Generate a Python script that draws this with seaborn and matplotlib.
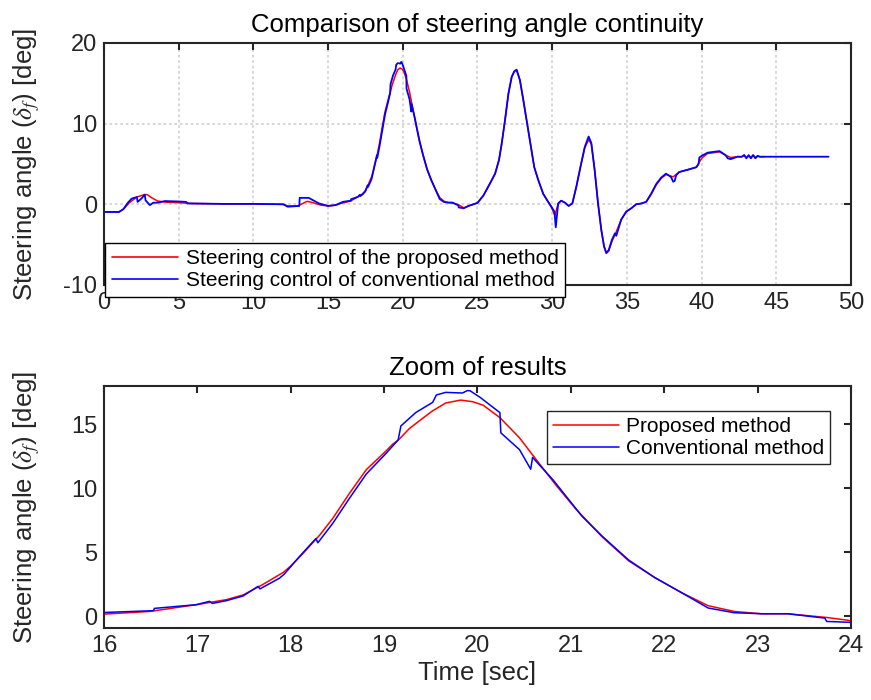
import numpy as np
import pandas as pd
import matplotlib
matplotlib.use("Agg")
import matplotlib.pyplot as plt
import seaborn as sns

# ---------------- data ----------------
t_proposed = [
    0, 1.0, 1.3, 1.7, 2.2, 2.7, 2.9, 3.2, 3.6, 4.2,
    5.0, 6.0, 8.0, 10.0, 12.0, 12.3, 13.0, 13.3, 13.6, 14.0,
    14.5, 15.0, 15.5, 16.0, 16.49, 16.99, 17.31, 17.49, 17.70, 17.92,
    18.0, 18.13, 18.31, 18.45, 18.63, 18.81, 19.0, 19.09, 19.16, 19.27,
    19.41, 19.52, 19.66, 19.82, 19.95, 20.06, 20.24, 20.45, 20.63, 20.84,
    21.05, 21.34, 21.62, 21.9, 22.19, 22.47, 22.75, 23.04, 23.32,
    23.74, 23.96, 24.07, 24.4, 25.0, 25.4, 25.84, 26.18, 26.44, 26.62,
    26.84, 27.07, 27.29, 27.47, 27.62, 27.84, 28.07, 28.29, 28.51, 28.8,
    29.07, 29.4, 29.73, 29.91, 30.18, 30.4, 30.6, 30.86, 31.1, 31.35,
    31.62, 31.9, 32.18, 32.44, 32.62, 32.84, 33.07, 33.29, 33.47, 33.62,
    33.78, 34.0, 34.29, 34.62, 34.96, 35.29, 35.62, 35.96, 36.29, 36.62,
    36.96, 37.29, 37.62, 38.1, 38.5, 39.1, 39.65, 40.0, 40.4, 41.2,
    41.6, 41.95, 42.4, 42.7, 42.85, 43.0, 43.15, 43.3, 43.45, 43.6,
    43.75, 43.9, 44.2,
]
y_proposed = [
    -0.95, -0.95, -0.6, 0.2, 0.9, 1.2, 1.2, 0.8, 0.4, 0.25,
    0.2, 0.1, 0.05, 0.05, 0.0, -0.2, -0.2, 0.1, 0.37, 0.2,
    -0.1, -0.2, -0.1, 0.18, 0.39, 0.92, 1.31, 1.68, 2.49, 3.44,
    3.94, 4.91, 6.35, 7.66, 9.63, 11.47, 12.78, 13.44, 13.83, 14.67,
    15.46, 16.06, 16.67, 16.90, 16.77, 16.5, 15.53, 13.95, 12.24, 10.26,
    8.42, 6.18, 4.34, 3.03, 1.84, 0.84, 0.39, 0.21, 0.21,
    -0.08, -0.29, -0.45, -0.2, 0.17, 1.1, 2.6, 3.8, 5.5, 7.5,
    10.4, 13.7, 15.8, 16.5, 16.6, 15.4, 12.9, 10.4, 7.9, 4.6,
    3.0, 1.3, 0.3, -0.2, -1.4, 0.1, 0.45, 0.2, -0.2, 0.1,
    2.2, 4.7, 7.0, 8.0, 7.5, 4.3, 0.1, -3.2, -5.2, -6.1,
    -5.8, -4.6, -3.4, -1.9, -0.9, -0.5, 0.0, 0.1, 0.3, 1.2,
    2.4, 3.2, 3.7, 3.4, 4.0, 4.3, 4.6, 5.7, 6.3, 6.5,
    6.1, 5.8, 5.9, 5.9, 6.1, 5.8, 6.0, 5.8, 6.1, 5.8,
    6.0, 5.9, 5.9,
]

t_conventional = [
    0, 1.0, 1.3, 1.6, 1.85, 2.2, 2.25, 2.5, 2.73, 2.78,
    3.07, 3.3, 3.6, 4.07, 5.0, 5.5, 5.6, 6.0, 8.0, 10.0,
    12.0, 12.3, 13.0, 13.07, 13.1, 13.7, 14.0, 14.4, 15.0, 15.5,
    16.0, 16.53, 16.54, 16.99, 17.13, 17.16, 17.31, 17.49, 17.65, 17.67,
    17.88, 17.93, 18.09, 18.27, 18.29, 18.45, 18.63, 18.81, 19.02, 19.15,
    19.18, 19.34, 19.52, 19.56, 19.66, 19.84, 19.89, 19.92, 20.03, 20.24,
    20.25, 20.45, 20.57, 20.59, 20.81, 21.12, 21.34, 21.62, 21.9, 22.19,
    22.47, 22.75, 23.04, 23.32,
    23.72, 23.74, 23.96, 24.07, 24.4, 25.0, 25.4, 25.84, 26.18, 26.44,
    26.62, 26.84, 27.07, 27.29, 27.47, 27.62, 27.84, 28.07, 28.29, 28.51,
    28.8, 29.07, 29.4, 29.73, 29.91, 30.15, 30.24, 30.4, 30.6, 30.86,
    31.1, 31.35, 31.62, 31.9, 32.18, 32.44, 32.62, 32.84, 33.07, 33.29,
    33.47, 33.62, 33.78, 34.0, 34.2, 34.29, 34.62, 34.96, 35.29, 35.62,
    35.96, 36.29, 36.62, 36.96, 37.29, 37.62, 37.95, 38.1, 38.2, 38.3,
    38.5, 39.1, 39.65, 39.8, 39.85, 40.0, 40.4, 41.2, 41.6, 41.75,
    41.95, 42.4, 42.7, 42.85, 43.0, 43.15, 43.3, 43.45, 43.6, 43.75,
    43.9, 44.2, 48.5,
]
y_conventional = [
    -0.95, -0.95, -0.6, 0.2, 0.7, 0.9, 0.3, 0.7, 1.2, 0.5,
    -0.1, 0.2, 0.2, 0.4, 0.35, 0.3, 0.1, 0.1, 0.05, 0.05,
    0.0, -0.3, -0.2, -0.2, 0.8, 0.8, 0.5, 0.1, -0.2, -0.1,
    0.31, 0.45, 0.63, 0.92, 1.18, 1.02, 1.23, 1.6, 2.35, 2.15,
    2.99, 3.3, 4.65, 6.09, 5.75, 7.27, 9.24, 11.13, 12.73, 13.78,
    14.88, 15.93, 16.72, 17.30, 17.5, 17.45, 17.64, 17.63, 17.1, 15.92,
    14.34, 13.03, 11.5, 12.42, 10.66, 7.82, 6.24, 4.4, 3.03, 1.84,
    0.66, 0.29, 0.21, 0.21,
    -0.13, -0.39, -0.45, -0.5, -0.2, 0.17, 1.1, 2.6, 3.8, 5.5,
    7.5, 10.4, 13.7, 15.8, 16.5, 16.7, 15.4, 12.9, 10.4, 7.9,
    4.6, 3.0, 1.3, 0.3, -0.2, -0.9, -2.85, 0.1, 0.45, 0.2,
    -0.2, 0.1, 2.2, 4.7, 7.1, 8.4, 7.6, 4.3, 0.1, -3.2,
    -5.2, -6.0, -5.7, -4.4, -3.6, -3.9, -1.9, -0.9, -0.5, 0.0,
    0.1, 0.3, 1.3, 2.5, 3.3, 3.8, 3.4, 2.8, 2.9, 3.6,
    4.0, 4.3, 4.6, 5.0, 5.8, 6.0, 6.4, 6.6, 6.1, 5.7,
    5.6, 5.9, 5.9, 6.1, 5.7, 6.1, 5.7, 6.1, 5.7, 6.0,
    5.9, 5.9, 5.9,
]

top_xticks = [0, 5, 10, 15, 20, 25, 30, 35, 40, 45, 50]
top_yticks = [-10, 0, 10, 20]
bot_xticks = [16, 17, 18, 19, 20, 21, 22, 23, 24]
bot_yticks = [0, 5, 10, 15]

top_title = "Comparison of steering angle continuity"
bot_title = "Zoom of results"
ylabel = r"Steering angle ($\delta_f$) [deg]"
xlabel = "Time [sec]"
top_labels = ["Steering control of the proposed method",
              "Steering control of conventional method"]
bot_labels = ["Proposed method", "Conventional method"]

# ---------------- style ----------------
sns.set_style("white")
plt.rcParams["font.family"] = ["Liberation Sans", "DejaVu Sans"]
plt.rcParams["mathtext.fontset"] = "stix"
plt.rcParams["axes.unicode_minus"] = False

df_p = pd.DataFrame({"t": t_proposed, "y": y_proposed})
df_c = pd.DataFrame({"t": t_conventional, "y": y_conventional})

fig = plt.figure(figsize=(8.71, 7.0), dpi=100)
ax1 = fig.add_axes([0.1194, 0.5929, 0.8576, 0.3457])
ax2 = fig.add_axes([0.1194, 0.1029, 0.8576, 0.3457])

AXC = "#262626"
TICK_FS = 17
LAB_FS = 18.5


def style_axes(ax):
    for s in ax.spines.values():
        s.set_color(AXC)
        s.set_linewidth(1.5)
        s.set_visible(True)
    ax.tick_params(direction="in", length=5, width=1.5, top=True, right=True,
                   labelsize=TICK_FS, colors=AXC, labelcolor=AXC, pad=5)


# top panel
sns.lineplot(data=df_p, x="t", y="y", ax=ax1, color="#ff0000", lw=1.1,
             sort=False, estimator=None, label=top_labels[0])
sns.lineplot(data=df_c, x="t", y="y", ax=ax1, color="#0000ff", lw=1.3,
             sort=False, estimator=None, label=top_labels[1])
ax1.set_xlim(0, 50)
ax1.set_ylim(-10, 20)
ax1.set_xticks(top_xticks)
ax1.set_yticks(top_yticks)
ax1.grid(True, color="#d4d4d4", linestyle=(0, (1.5, 1.5)), linewidth=1.3)
ax1.set_axisbelow(True)
style_axes(ax1)
ax1.set_title(top_title, fontsize=LAB_FS, pad=8, color="black")
ax1.set_xlabel("")
ax1.set_ylabel(ylabel, fontsize=LAB_FS, color=AXC)
ax1.yaxis.set_label_coords(-0.083, 0.5)
leg1 = ax1.legend(loc="lower left", bbox_to_anchor=(0.002, -0.048),
                  borderaxespad=0, fontsize=15, frameon=True, fancybox=False,
                  edgecolor="black", framealpha=1, handlelength=3.2,
                  handletextpad=0.35, labelspacing=0.15, borderpad=0.3,
                  labelcolor="black")
leg1.get_frame().set_linewidth(1.0)
for h in leg1.get_lines():
    h.set_linewidth(1.2)

# bottom panel
sns.lineplot(data=df_p, x="t", y="y", ax=ax2, color="#ff0000", lw=1.1,
             sort=False, estimator=None, label=bot_labels[0])
sns.lineplot(data=df_c, x="t", y="y", ax=ax2, color="#0000ff", lw=1.1,
             sort=False, estimator=None, label=bot_labels[1])
ax2.set_xlim(16, 24)
ax2.set_ylim(-0.9, 18.0)
ax2.set_xticks(bot_xticks)
ax2.set_yticks(bot_yticks)
ax2.grid(False)
style_axes(ax2)
ax2.set_title(bot_title, fontsize=LAB_FS, pad=8, color="black")
ax2.set_xlabel(xlabel, fontsize=LAB_FS, color=AXC, labelpad=3)
ax2.set_ylabel(ylabel, fontsize=LAB_FS, color=AXC)
ax2.yaxis.set_label_coords(-0.083, 0.5)
leg2 = ax2.legend(loc="upper right", bbox_to_anchor=(0.972, 0.898),
                  borderaxespad=0, fontsize=15, frameon=True, fancybox=False,
                  edgecolor=AXC, framealpha=1, handlelength=3.2,
                  handletextpad=0.3, labelspacing=0.15, borderpad=0.3,
                  labelcolor="black")
leg2.get_frame().set_linewidth(1.0)

fig.savefig("out.png", dpi=100, facecolor="white")
